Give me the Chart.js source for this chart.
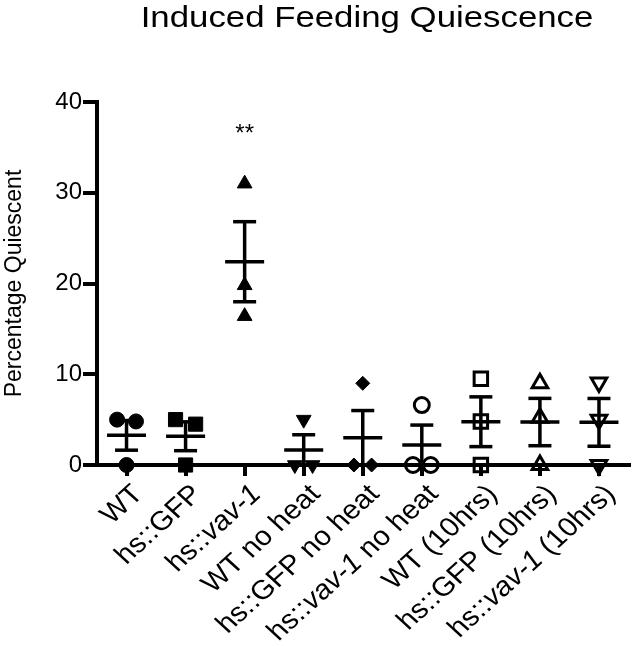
<!DOCTYPE html>
<html>
<head>
<meta charset="utf-8">
<script src="https://cdn.jsdelivr.net/npm/chart.js@4.4.1/dist/chart.umd.min.js"></script>
<style>
  html, body { margin: 0; padding: 0; background: #fff; }
  #wrap { width: 641px; height: 646px; }
</style>
</head>
<body>
<div id="wrap"><canvas id="quiescenceChart" width="641" height="646"></canvas></div>
<script>
// quiescence.js - induced feeding quiescence scatter (mean +/- SEM)
const FONT = '"Liberation Sans", Arial, sans-serif';

const groups = ['WT', 'hs::GFP', 'hs::vav-1', 'WT no heat', 'hs::GFP no heat',
    'hs::vav-1 no heat', 'WT (10hrs)', 'hs::GFP (10hrs)', 'hs::vav-1 (10hrs)'];
const italicPart = 'vav-1';

// percentage quiescent, one value per replicate
const wt = [5.0, 4.8, 0];
const hsGfp = [5.0, 4.5, 0];
const hsVav = [31.0, 19.8, 16.4];
const wtNoHeat = [5.0, 0, 0];
const hsGfpNoHeat = [9.0, 0, 0];
const hsVavNoHeat = [6.6, 0, 0];
const wt10 = [9.5, 4.8, 0];
const hsGfp10 = [9.0, 5.2, 0];
const hsVav10 = [9.1, 5.0, 0];
const groupValues = [wt, hsGfp, hsVav, wtNoHeat, hsGfpNoHeat, hsVavNoHeat, wt10, hsGfp10, hsVav10];

// sideways spread of tied points (category units)
const spread = [
    [-0.16, 0.16, 0], [-0.17, 0.17, 0], [0, 0, 0],
    [0, -0.15, 0.15], [0, -0.15, 0.15], [0, -0.15, 0.15],
    [0, 0, 0], [0, 0, 0], [0, 0, 0]
];

const yTicks = [0, 10, 20, 30, 40];
const starGroup = 2;
const starText = '**';
const starValue = 36.4;

const markers = [
    { style: 'circle', rot: 0, filled: true, r: 7.5 },
    { style: 'rect', rot: 0, filled: true, r: 10 },
    { style: 'triangle', rot: 0, filled: true, r: 8.5 },
    { style: 'triangle', rot: 180, filled: true, r: 8.5 },
    { style: 'rectRot', rot: 0, filled: true, r: 7 },
    { style: 'circle', rot: 0, filled: false, r: 7.5 },
    { style: 'rect', rot: 0, filled: false, r: 9.5 },
    { style: 'triangle', rot: 0, filled: false, r: 9 },
    { style: 'triangle', rot: 180, filled: false, r: 9 }
];

function meanSem(vals) {
    const n = vals.length;
    const m = vals.reduce((a, b) => a + b, 0) / n;
    const sd = Math.sqrt(vals.reduce((a, v) => a + (v - m) * (v - m), 0) / (n - 1));
    return { m, sem: sd / Math.sqrt(n) };
}

function line(ctx, x1, y1, x2, y2) {
    ctx.beginPath();
    ctx.moveTo(x1, y1);
    ctx.lineTo(x2, y2);
    ctx.stroke();
}

const errorBars = {
    id: 'errorBars',
    afterDatasetsDraw(chart) {
        const { ctx, scales: { x, y } } = chart;
        ctx.save();
        ctx.strokeStyle = '#000';
        ctx.lineWidth = 3.5;
        groupValues.forEach((vals, i) => {
            const { m, sem } = meanSem(vals);
            const px = x.getPixelForValue(i);
            const yM = y.getPixelForValue(m);
            const yT = y.getPixelForValue(m + sem);
            const yB = y.getPixelForValue(m - sem);
            line(ctx, px - 19.5, yM, px + 19.5, yM);
            line(ctx, px, yT, px, yB);
            line(ctx, px - 11.5, yT, px + 11.5, yT);
            line(ctx, px - 11.5, yB, px + 11.5, yB);
        });
        ctx.restore();
    }
};

const textLayer = {
    id: 'textLayer',
    afterDraw(chart) {
        const { ctx, chartArea, scales: { x, y } } = chart;
        ctx.save();
        ctx.fillStyle = '#000';

        // title (the source figure is a little wider than tall)
        ctx.save();
        ctx.translate(367, 27);
        ctx.scale(1.2, 1);
        ctx.font = '29px ' + FONT;
        ctx.textAlign = 'center';
        ctx.textBaseline = 'alphabetic';
        ctx.fillText('Induced Feeding Quiescence', 0, 0);
        ctx.restore();

        // significance stars
        ctx.font = '24px ' + FONT;
        ctx.textAlign = 'center';
        ctx.textBaseline = 'middle';
        ctx.fillText(starText, x.getPixelForValue(starGroup), y.getPixelForValue(starValue));

        // rotated category labels, italic gene name
        const normal = '27px ' + FONT;
        const italic = 'italic 27px ' + FONT;
        groups.forEach((g, i) => {
            const k = g.indexOf(italicPart);
            const parts = k < 0 ? [[g, normal]] : [
                [g.slice(0, k), normal], [italicPart, italic], [g.slice(k + italicPart.length), normal]
            ];
            let total = 0;
            parts.forEach(p => { ctx.font = p[1]; total += ctx.measureText(p[0]).width; });
            ctx.save();
            ctx.translate(x.getPixelForValue(i) + 12, chartArea.bottom + 25);
            ctx.scale(1.1, 1);
            ctx.rotate(-Math.PI / 4);
            ctx.textAlign = 'left';
            ctx.textBaseline = 'middle';
            let cx = -total;
            parts.forEach(p => {
                ctx.font = p[1];
                ctx.fillText(p[0], cx, 0);
                cx += ctx.measureText(p[0]).width;
            });
            ctx.restore();
        });
        ctx.restore();
    }
};

function initChart() {
    const ctx = document.getElementById('quiescenceChart').getContext('2d');
    new Chart(ctx, {
        type: 'scatter',
        data: {
            datasets: groupValues.map((vals, i) => ({
                label: groups[i],
                data: vals.map((v, j) => ({ x: i + spread[i][j], y: v })),
                pointStyle: markers[i].style,
                rotation: markers[i].rot,
                pointRadius: markers[i].r,
                pointBackgroundColor: markers[i].filled ? '#000' : 'rgba(0,0,0,0)',
                pointBorderColor: '#000',
                pointBorderWidth: markers[i].filled ? 1 : 3,
                showLine: false,
                clip: false
            }))
        },
        options: {
            responsive: false,
            animation: false,
            devicePixelRatio: 1,
            layout: { padding: { top: 102, right: 2, left: 0, bottom: 0 } },
            plugins: {
                legend: { display: false },
                tooltip: { enabled: false }
            },
            scales: {
                x: {
                    type: 'linear',
                    min: -0.5,
                    max: groups.length - 0.5,
                    afterBuildTicks: s => { s.ticks = groups.map((_, i) => ({ value: i })); },
                    afterFit: s => { s.height = 646 - 465; },
                    ticks: { display: false },
                    grid: { drawOnChartArea: false, drawTicks: true, tickLength: 11, lineWidth: 4, color: '#000' },
                    border: { display: true, width: 4, color: '#000' }
                },
                y: {
                    min: 0,
                    max: 40,
                    afterBuildTicks: s => { s.ticks = yTicks.map(v => ({ value: v })); },
                    afterFit: s => { s.width = 97; },
                    ticks: { color: '#000', font: { size: 24, family: FONT }, padding: 1 },
                    grid: { drawOnChartArea: false, tickLength: 14, lineWidth: 4, color: '#000' },
                    border: { display: true, width: 4, color: '#000' },
                    title: {
                        display: true,
                        text: 'Percentage Quiescent',
                        color: '#000',
                        font: { size: 23, family: FONT },
                        padding: { top: 1, bottom: 0 }
                    }
                }
            }
        },
        plugins: [errorBars, textLayer]
    });
}

document.addEventListener('DOMContentLoaded', initChart);
</script>
</body>
</html>
